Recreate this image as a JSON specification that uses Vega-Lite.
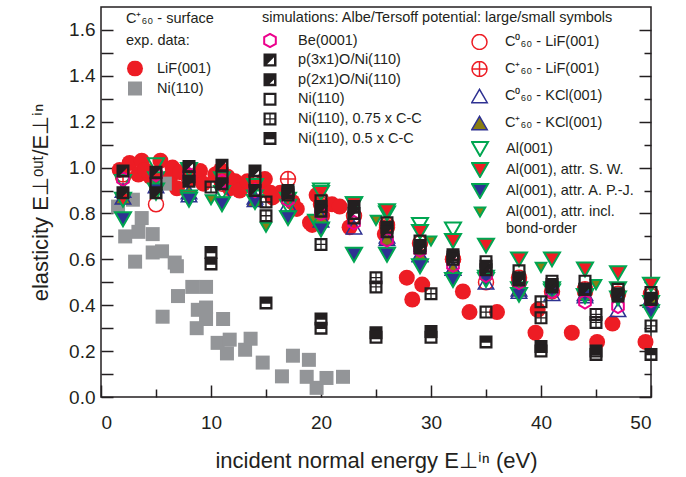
{
  "$schema": "https://vega.github.io/schema/vega-lite/v6.json",
  "width": 550,
  "height": 390,
  "autosize": {"type": "none"},
  "padding": {"left": 101, "top": 7, "right": 35, "bottom": 80},
  "config": {
    "font": "Liberation Sans",
    "view": {"stroke": "#231f20", "strokeWidth": 1.5},
    "axis": {"grid": false, "domain": false, "tickColor": "#231f20", "tickWidth": 1.5, "labelColor": "#231f20", "titleColor": "#231f20", "titleFontWeight": "normal"},
    "legend": {"titleFontWeight": "normal", "titleColor": "#231f20", "labelColor": "#231f20", "titleLimit": 500, "labelLimit": 500, "padding": 0, "symbolOpacity": 1}
  },
  "data": {"values": [
    {"g":"exp","s":"LiF(001)","x":1.7,"y":0.99},{"g":"exp","s":"LiF(001)","x":2.6,"y":1.02},{"g":"exp","s":"LiF(001)","x":3.4,"y":0.97},{"g":"exp","s":"LiF(001)","x":3.7,"y":1.03},{"g":"exp","s":"LiF(001)","x":4.5,"y":0.96},{"g":"exp","s":"LiF(001)","x":4.0,"y":0.99},{"g":"exp","s":"LiF(001)","x":5.4,"y":1.03},{"g":"exp","s":"LiF(001)","x":5.6,"y":0.94},{"g":"exp","s":"LiF(001)","x":6.3,"y":0.96},{"g":"exp","s":"LiF(001)","x":6.5,"y":1.0},{"g":"exp","s":"LiF(001)","x":7.2,"y":0.98},{"g":"exp","s":"LiF(001)","x":6.9,"y":0.91},{"g":"exp","s":"LiF(001)","x":8.2,"y":0.95},{"g":"exp","s":"LiF(001)","x":9.0,"y":0.985},{"g":"exp","s":"LiF(001)","x":9.3,"y":0.93},{"g":"exp","s":"LiF(001)","x":10.4,"y":0.97},{"g":"exp","s":"LiF(001)","x":10.9,"y":0.99},{"g":"exp","s":"LiF(001)","x":11.5,"y":0.96},{"g":"exp","s":"LiF(001)","x":11.7,"y":0.91},{"g":"exp","s":"LiF(001)","x":12.2,"y":0.94},{"g":"exp","s":"LiF(001)","x":12.6,"y":0.9},{"g":"exp","s":"LiF(001)","x":13.3,"y":0.94},{"g":"exp","s":"LiF(001)","x":14.6,"y":0.93},{"g":"exp","s":"LiF(001)","x":14.9,"y":0.95},{"g":"exp","s":"LiF(001)","x":15.4,"y":0.89},{"g":"exp","s":"LiF(001)","x":16.3,"y":0.89},{"g":"exp","s":"LiF(001)","x":15.6,"y":0.87},{"g":"exp","s":"LiF(001)","x":17.4,"y":0.85},{"g":"exp","s":"LiF(001)","x":17.8,"y":0.82},{"g":"exp","s":"LiF(001)","x":19.0,"y":0.76},{"g":"exp","s":"LiF(001)","x":19.6,"y":0.88},{"g":"exp","s":"LiF(001)","x":21.0,"y":0.84},{"g":"exp","s":"LiF(001)","x":21.7,"y":0.83},{"g":"exp","s":"LiF(001)","x":20.1,"y":0.79},{"g":"exp","s":"LiF(001)","x":19.2,"y":0.75},{"g":"exp","s":"LiF(001)","x":22.6,"y":0.74},{"g":"exp","s":"LiF(001)","x":25.8,"y":0.71},{"g":"exp","s":"LiF(001)","x":27.8,"y":0.52},{"g":"exp","s":"LiF(001)","x":29.2,"y":0.49},{"g":"exp","s":"LiF(001)","x":28.3,"y":0.425},{"g":"exp","s":"LiF(001)","x":32.9,"y":0.46},{"g":"exp","s":"LiF(001)","x":33.5,"y":0.37},{"g":"exp","s":"LiF(001)","x":36.0,"y":0.37},{"g":"exp","s":"LiF(001)","x":39.7,"y":0.38},{"g":"exp","s":"LiF(001)","x":39.5,"y":0.28},{"g":"exp","s":"LiF(001)","x":42.8,"y":0.28},{"g":"exp","s":"LiF(001)","x":45.1,"y":0.24},{"g":"exp","s":"LiF(001)","x":46.5,"y":0.32},{"g":"exp","s":"LiF(001)","x":49.5,"y":0.24},
    {"g":"exp","s":"Ni(110)","x":1.55,"y":0.83},{"g":"exp","s":"Ni(110)","x":2.9,"y":0.86},{"g":"exp","s":"Ni(110)","x":3.7,"y":0.78},{"g":"exp","s":"Ni(110)","x":3.4,"y":0.72},{"g":"exp","s":"Ni(110)","x":2.2,"y":0.7},{"g":"exp","s":"Ni(110)","x":4.7,"y":0.71},{"g":"exp","s":"Ni(110)","x":4.7,"y":0.63},{"g":"exp","s":"Ni(110)","x":5.55,"y":0.635},{"g":"exp","s":"Ni(110)","x":3.1,"y":0.59},{"g":"exp","s":"Ni(110)","x":5.8,"y":0.93},{"g":"exp","s":"Ni(110)","x":6.7,"y":0.586},{"g":"exp","s":"Ni(110)","x":6.9,"y":0.57},{"g":"exp","s":"Ni(110)","x":8.3,"y":0.48},{"g":"exp","s":"Ni(110)","x":9.55,"y":0.48},{"g":"exp","s":"Ni(110)","x":7.0,"y":0.44},{"g":"exp","s":"Ni(110)","x":5.6,"y":0.35},{"g":"exp","s":"Ni(110)","x":8.8,"y":0.38},{"g":"exp","s":"Ni(110)","x":9.55,"y":0.39},{"g":"exp","s":"Ni(110)","x":9.55,"y":0.34},{"g":"exp","s":"Ni(110)","x":8.7,"y":0.3},{"g":"exp","s":"Ni(110)","x":11.1,"y":0.34},{"g":"exp","s":"Ni(110)","x":10.6,"y":0.236},{"g":"exp","s":"Ni(110)","x":11.7,"y":0.25},{"g":"exp","s":"Ni(110)","x":11.45,"y":0.19},{"g":"exp","s":"Ni(110)","x":13.1,"y":0.206},{"g":"exp","s":"Ni(110)","x":13.6,"y":0.254},{"g":"exp","s":"Ni(110)","x":14.7,"y":0.15},{"g":"exp","s":"Ni(110)","x":16.45,"y":0.09},{"g":"exp","s":"Ni(110)","x":17.45,"y":0.18},{"g":"exp","s":"Ni(110)","x":18.9,"y":0.162},{"g":"exp","s":"Ni(110)","x":18.7,"y":0.088},{"g":"exp","s":"Ni(110)","x":19.6,"y":0.04},{"g":"exp","s":"Ni(110)","x":20.5,"y":0.083},{"g":"exp","s":"Ni(110)","x":22.0,"y":0.088},

    {"g":"ra","s":"C⁰₆₀ - LiF(001)","x":2,"y":0.96},{"g":"ra","s":"C⁰₆₀ - LiF(001)","x":5,"y":0.84},{"g":"ra","s":"C⁰₆₀ - LiF(001)","x":8,"y":0.95},{"g":"ra","s":"C⁰₆₀ - LiF(001)","x":11,"y":0.93},{"g":"ra","s":"C⁰₆₀ - LiF(001)","x":14,"y":0.91},{"g":"ra","s":"C⁰₆₀ - LiF(001)","x":17,"y":0.87},{"g":"ra","s":"C⁰₆₀ - LiF(001)","x":20,"y":0.84},{"g":"ra","s":"C⁰₆₀ - LiF(001)","x":23,"y":0.79},{"g":"ra","s":"C⁰₆₀ - LiF(001)","x":26,"y":0.74},{"g":"ra","s":"C⁰₆₀ - LiF(001)","x":29,"y":0.67},{"g":"ra","s":"C⁰₆₀ - LiF(001)","x":32,"y":0.6},{"g":"ra","s":"C⁰₆₀ - LiF(001)","x":35,"y":0.5},{"g":"ra","s":"C⁰₆₀ - LiF(001)","x":38,"y":0.5},{"g":"ra","s":"C⁰₆₀ - LiF(001)","x":41,"y":0.46},{"g":"ra","s":"C⁰₆₀ - LiF(001)","x":44,"y":0.46},{"g":"ra","s":"C⁰₆₀ - LiF(001)","x":47,"y":0.45},{"g":"ra","s":"C⁰₆₀ - LiF(001)","x":50,"y":0.44},
    {"g":"ra","s":"C⁺₆₀ - LiF(001)","x":2,"y":0.97},{"g":"ra","s":"C⁺₆₀ - LiF(001)","x":8,"y":0.99},{"g":"ra","s":"C⁺₆₀ - LiF(001)","x":17,"y":0.95},{"g":"ra","s":"C⁺₆₀ - LiF(001)","x":20,"y":0.86},{"g":"ra","s":"C⁺₆₀ - LiF(001)","x":26,"y":0.75},{"g":"ra","s":"C⁺₆₀ - LiF(001)","x":32,"y":0.6},{"g":"ra","s":"C⁺₆₀ - LiF(001)","x":38,"y":0.52},{"g":"ra","s":"C⁺₆₀ - LiF(001)","x":44,"y":0.47},{"g":"ra","s":"C⁺₆₀ - LiF(001)","x":50,"y":0.45},
    {"g":"ra","s":"C⁰₆₀ - KCl(001)","x":2,"y":0.9},{"g":"ra","s":"C⁰₆₀ - KCl(001)","x":5,"y":0.92},{"g":"ra","s":"C⁰₆₀ - KCl(001)","x":8,"y":0.88},{"g":"ra","s":"C⁰₆₀ - KCl(001)","x":11,"y":0.9},{"g":"ra","s":"C⁰₆₀ - KCl(001)","x":14,"y":0.87},{"g":"ra","s":"C⁰₆₀ - KCl(001)","x":17,"y":0.84},{"g":"ra","s":"C⁰₆₀ - KCl(001)","x":20,"y":0.77},{"g":"ra","s":"C⁰₆₀ - KCl(001)","x":23,"y":0.74},{"g":"ra","s":"C⁰₆₀ - KCl(001)","x":26,"y":0.7},{"g":"ra","s":"C⁰₆₀ - KCl(001)","x":29,"y":0.62},{"g":"ra","s":"C⁰₆₀ - KCl(001)","x":32,"y":0.56},{"g":"ra","s":"C⁰₆₀ - KCl(001)","x":35,"y":0.5},{"g":"ra","s":"C⁰₆₀ - KCl(001)","x":38,"y":0.46},{"g":"ra","s":"C⁰₆₀ - KCl(001)","x":41,"y":0.45},{"g":"ra","s":"C⁰₆₀ - KCl(001)","x":44,"y":0.44},{"g":"ra","s":"C⁰₆₀ - KCl(001)","x":47,"y":0.38},{"g":"ra","s":"C⁰₆₀ - KCl(001)","x":50,"y":0.42},
    {"g":"ra","s":"C⁺₆₀ - KCl(001)","x":2,"y":0.87},{"g":"ra","s":"C⁺₆₀ - KCl(001)","x":8,"y":0.893},{"g":"ra","s":"C⁺₆₀ - KCl(001)","x":14,"y":0.86},{"g":"ra","s":"C⁺₆₀ - KCl(001)","x":20,"y":0.785},{"g":"ra","s":"C⁺₆₀ - KCl(001)","x":26,"y":0.69},{"g":"ra","s":"C⁺₆₀ - KCl(001)","x":29,"y":0.62},{"g":"ra","s":"C⁺₆₀ - KCl(001)","x":32,"y":0.56},{"g":"ra","s":"C⁺₆₀ - KCl(001)","x":38,"y":0.47},{"g":"ra","s":"C⁺₆₀ - KCl(001)","x":44,"y":0.45},{"g":"ra","s":"C⁺₆₀ - KCl(001)","x":50,"y":0.43},

    {"g":"rb","s":"Al(001)","x":2,"y":0.937},{"g":"rb","s":"Al(001)","x":5,"y":1.01},{"g":"rb","s":"Al(001)","x":8,"y":0.99},{"g":"rb","s":"Al(001)","x":11,"y":0.89},{"g":"rb","s":"Al(001)","x":14,"y":0.87},{"g":"rb","s":"Al(001)","x":17,"y":0.83},{"g":"rb","s":"Al(001)","x":20,"y":0.9},{"g":"rb","s":"Al(001)","x":23,"y":0.84},{"g":"rb","s":"Al(001)","x":26,"y":0.8},{"g":"rb","s":"Al(001)","x":29,"y":0.75},{"g":"rb","s":"Al(001)","x":32,"y":0.73},{"g":"rb","s":"Al(001)","x":35,"y":0.52},{"g":"rb","s":"Al(001)","x":38,"y":0.47},{"g":"rb","s":"Al(001)","x":41,"y":0.47},{"g":"rb","s":"Al(001)","x":44,"y":0.44},{"g":"rb","s":"Al(001)","x":47,"y":0.47},{"g":"rb","s":"Al(001)","x":50,"y":0.41},
    {"g":"rb","s":"Al(001), attr. S. W.","x":2,"y":0.86},{"g":"rb","s":"Al(001), attr. S. W.","x":5,"y":0.95},{"g":"rb","s":"Al(001), attr. S. W.","x":8,"y":0.87},{"g":"rb","s":"Al(001), attr. S. W.","x":11,"y":0.95},{"g":"rb","s":"Al(001), attr. S. W.","x":14,"y":0.92},{"g":"rb","s":"Al(001), attr. S. W.","x":17,"y":0.86},{"g":"rb","s":"Al(001), attr. S. W.","x":20,"y":0.89},{"g":"rb","s":"Al(001), attr. S. W.","x":23,"y":0.84},{"g":"rb","s":"Al(001), attr. S. W.","x":26,"y":0.81},{"g":"rb","s":"Al(001), attr. S. W.","x":29,"y":0.72},{"g":"rb","s":"Al(001), attr. S. W.","x":32,"y":0.68},{"g":"rb","s":"Al(001), attr. S. W.","x":35,"y":0.66},{"g":"rb","s":"Al(001), attr. S. W.","x":38,"y":0.6},{"g":"rb","s":"Al(001), attr. S. W.","x":41,"y":0.6},{"g":"rb","s":"Al(001), attr. S. W.","x":44,"y":0.556},{"g":"rb","s":"Al(001), attr. S. W.","x":47,"y":0.54},{"g":"rb","s":"Al(001), attr. S. W.","x":50,"y":0.49},
    {"g":"rb","s":"Al(001), attr. A. P.-J.","x":2,"y":0.775},{"g":"rb","s":"Al(001), attr. A. P.-J.","x":5,"y":0.9},{"g":"rb","s":"Al(001), attr. A. P.-J.","x":8,"y":0.86},{"g":"rb","s":"Al(001), attr. A. P.-J.","x":11,"y":0.84},{"g":"rb","s":"Al(001), attr. A. P.-J.","x":14,"y":0.85},{"g":"rb","s":"Al(001), attr. A. P.-J.","x":17,"y":0.78},{"g":"rb","s":"Al(001), attr. A. P.-J.","x":20,"y":0.73},{"g":"rb","s":"Al(001), attr. A. P.-J.","x":23,"y":0.62},{"g":"rb","s":"Al(001), attr. A. P.-J.","x":26,"y":0.62},{"g":"rb","s":"Al(001), attr. A. P.-J.","x":29,"y":0.57},{"g":"rb","s":"Al(001), attr. A. P.-J.","x":32,"y":0.51},{"g":"rb","s":"Al(001), attr. A. P.-J.","x":35,"y":0.51},{"g":"rb","s":"Al(001), attr. A. P.-J.","x":38,"y":0.445},{"g":"rb","s":"Al(001), attr. A. P.-J.","x":41,"y":0.46},{"g":"rb","s":"Al(001), attr. A. P.-J.","x":44,"y":0.44},{"g":"rb","s":"Al(001), attr. A. P.-J.","x":47,"y":0.43},{"g":"rb","s":"Al(001), attr. A. P.-J.","x":50,"y":0.37},
    {"g":"rb","s":"Al(001), attr. incl. bond-order","x":5,"y":0.88},{"g":"rb","s":"Al(001), attr. incl. bond-order","x":10,"y":0.86},{"g":"rb","s":"Al(001), attr. incl. bond-order","x":15,"y":0.74},{"g":"rb","s":"Al(001), attr. incl. bond-order","x":19.3,"y":0.775},{"g":"rb","s":"Al(001), attr. incl. bond-order","x":25,"y":0.77},{"g":"rb","s":"Al(001), attr. incl. bond-order","x":30,"y":0.68},{"g":"rb","s":"Al(001), attr. incl. bond-order","x":40,"y":0.565},{"g":"rb","s":"Al(001), attr. incl. bond-order","x":45,"y":0.49},

    {"g":"mid","s":"Be(0001)","x":2,"y":0.95},{"g":"mid","s":"Be(0001)","x":5,"y":0.97},{"g":"mid","s":"Be(0001)","x":8,"y":0.97},{"g":"mid","s":"Be(0001)","x":11,"y":0.94},{"g":"mid","s":"Be(0001)","x":14,"y":0.9},{"g":"mid","s":"Be(0001)","x":17,"y":0.86},{"g":"mid","s":"Be(0001)","x":20,"y":0.8},{"g":"mid","s":"Be(0001)","x":23,"y":0.76},{"g":"mid","s":"Be(0001)","x":26,"y":0.685},{"g":"mid","s":"Be(0001)","x":29,"y":0.64},{"g":"mid","s":"Be(0001)","x":32,"y":0.575},{"g":"mid","s":"Be(0001)","x":35,"y":0.53},{"g":"mid","s":"Be(0001)","x":38,"y":0.5},{"g":"mid","s":"Be(0001)","x":41,"y":0.46},{"g":"mid","s":"Be(0001)","x":44,"y":0.415},{"g":"mid","s":"Be(0001)","x":47,"y":0.395},{"g":"mid","s":"Be(0001)","x":50,"y":0.42},
    {"g":"mid","s":"Ni(110)","x":5,"y":0.93},{"g":"mid","s":"Ni(110)","x":8,"y":0.96},{"g":"mid","s":"Ni(110)","x":11,"y":0.96},{"g":"mid","s":"Ni(110)","x":14,"y":0.94},{"g":"mid","s":"Ni(110)","x":17,"y":0.89},{"g":"mid","s":"Ni(110)","x":20,"y":0.855},{"g":"mid","s":"Ni(110)","x":23,"y":0.78},{"g":"mid","s":"Ni(110)","x":26,"y":0.76},{"g":"mid","s":"Ni(110)","x":29,"y":0.68},{"g":"mid","s":"Ni(110)","x":32,"y":0.61},{"g":"mid","s":"Ni(110)","x":35,"y":0.59},{"g":"mid","s":"Ni(110)","x":38,"y":0.55},{"g":"mid","s":"Ni(110)","x":41,"y":0.505},{"g":"mid","s":"Ni(110)","x":44,"y":0.505},{"g":"mid","s":"Ni(110)","x":47,"y":0.47},{"g":"mid","s":"Ni(110)","x":50,"y":0.455},
    {"g":"mid","s":"p(2x1)O/Ni(110)","x":2,"y":0.89},{"g":"mid","s":"p(2x1)O/Ni(110)","x":5,"y":0.89},{"g":"mid","s":"p(2x1)O/Ni(110)","x":8,"y":0.94},{"g":"mid","s":"p(2x1)O/Ni(110)","x":11,"y":0.93},{"g":"mid","s":"p(2x1)O/Ni(110)","x":14,"y":0.985},{"g":"mid","s":"p(2x1)O/Ni(110)","x":17,"y":0.9},{"g":"mid","s":"p(2x1)O/Ni(110)","x":20,"y":0.83},{"g":"mid","s":"p(2x1)O/Ni(110)","x":23,"y":0.83},{"g":"mid","s":"p(2x1)O/Ni(110)","x":26,"y":0.74},{"g":"mid","s":"p(2x1)O/Ni(110)","x":29,"y":0.65},{"g":"mid","s":"p(2x1)O/Ni(110)","x":32,"y":0.62},{"g":"mid","s":"p(2x1)O/Ni(110)","x":35,"y":0.555},{"g":"mid","s":"p(2x1)O/Ni(110)","x":38,"y":0.51},{"g":"mid","s":"p(2x1)O/Ni(110)","x":41,"y":0.48},{"g":"mid","s":"p(2x1)O/Ni(110)","x":44,"y":0.47},{"g":"mid","s":"p(2x1)O/Ni(110)","x":47,"y":0.44},{"g":"mid","s":"p(2x1)O/Ni(110)","x":50,"y":0.425},
    {"g":"mid","s":"p(3x1)O/Ni(110)","x":2,"y":0.985},{"g":"mid","s":"p(3x1)O/Ni(110)","x":5,"y":0.98},{"g":"mid","s":"p(3x1)O/Ni(110)","x":8,"y":1.005},{"g":"mid","s":"p(3x1)O/Ni(110)","x":11,"y":1.01},{"g":"mid","s":"p(3x1)O/Ni(110)","x":14,"y":0.9},{"g":"mid","s":"p(3x1)O/Ni(110)","x":17,"y":0.88},{"g":"mid","s":"p(3x1)O/Ni(110)","x":20,"y":0.81},{"g":"mid","s":"p(3x1)O/Ni(110)","x":23,"y":0.8},{"g":"mid","s":"p(3x1)O/Ni(110)","x":26,"y":0.72},{"g":"mid","s":"p(3x1)O/Ni(110)","x":29,"y":0.66},{"g":"mid","s":"p(3x1)O/Ni(110)","x":32,"y":0.6},{"g":"mid","s":"p(3x1)O/Ni(110)","x":35,"y":0.57},{"g":"mid","s":"p(3x1)O/Ni(110)","x":38,"y":0.52},{"g":"mid","s":"p(3x1)O/Ni(110)","x":41,"y":0.49},{"g":"mid","s":"p(3x1)O/Ni(110)","x":44,"y":0.47},{"g":"mid","s":"p(3x1)O/Ni(110)","x":47,"y":0.45},{"g":"mid","s":"p(3x1)O/Ni(110)","x":50,"y":0.43},
    {"g":"mid","s":"Ni(110), 0.75 x C-C","x":10,"y":0.915},{"g":"mid","s":"Ni(110), 0.75 x C-C","x":15,"y":0.85},{"g":"mid","s":"Ni(110), 0.75 x C-C","x":15,"y":0.79},{"g":"mid","s":"Ni(110), 0.75 x C-C","x":20,"y":0.665},{"g":"mid","s":"Ni(110), 0.75 x C-C","x":25,"y":0.52},{"g":"mid","s":"Ni(110), 0.75 x C-C","x":25,"y":0.48},{"g":"mid","s":"Ni(110), 0.75 x C-C","x":30,"y":0.45},{"g":"mid","s":"Ni(110), 0.75 x C-C","x":35,"y":0.37},{"g":"mid","s":"Ni(110), 0.75 x C-C","x":40,"y":0.415},{"g":"mid","s":"Ni(110), 0.75 x C-C","x":40,"y":0.345},{"g":"mid","s":"Ni(110), 0.75 x C-C","x":45,"y":0.36},{"g":"mid","s":"Ni(110), 0.75 x C-C","x":45,"y":0.325},{"g":"mid","s":"Ni(110), 0.75 x C-C","x":50,"y":0.31},
    {"g":"mid","s":"Ni(110), 0.5 x C-C","x":10,"y":0.63},{"g":"mid","s":"Ni(110), 0.5 x C-C","x":10,"y":0.58},{"g":"mid","s":"Ni(110), 0.5 x C-C","x":15,"y":0.41},{"g":"mid","s":"Ni(110), 0.5 x C-C","x":20,"y":0.34},{"g":"mid","s":"Ni(110), 0.5 x C-C","x":20,"y":0.3},{"g":"mid","s":"Ni(110), 0.5 x C-C","x":25,"y":0.28},{"g":"mid","s":"Ni(110), 0.5 x C-C","x":25,"y":0.26},{"g":"mid","s":"Ni(110), 0.5 x C-C","x":30,"y":0.285},{"g":"mid","s":"Ni(110), 0.5 x C-C","x":30,"y":0.26},{"g":"mid","s":"Ni(110), 0.5 x C-C","x":35,"y":0.24},{"g":"mid","s":"Ni(110), 0.5 x C-C","x":40,"y":0.22},{"g":"mid","s":"Ni(110), 0.5 x C-C","x":40,"y":0.2},{"g":"mid","s":"Ni(110), 0.5 x C-C","x":45,"y":0.2},{"g":"mid","s":"Ni(110), 0.5 x C-C","x":45,"y":0.185},{"g":"mid","s":"Ni(110), 0.5 x C-C","x":50,"y":0.185}
  ]},
  "layer": [
    {
      "transform": [{"filter": "datum.g === 'exp'"}],
      "mark": {"type": "point", "opacity": 1, "strokeWidth": 0},
      "encoding": {
        "x": {"field": "x", "type": "quantitative", "scale": {"domain": [0, 50], "nice": false},
          "axis": {"values": [0,5,10,15,20,25,30,35,40,45,50], "labelExpr": "datum.value % 10 === 0 ? datum.label : ''",
            "tickSize": {"condition": {"test": "datum.value % 10 === 0", "value": -12}, "value": -8},
            "labelPadding": 28, "labelFontSize": 19, "title": "incident normal energy E⊥ⁱⁿ (eV)", "titleFontSize": 22, "titlePadding": 18}},
        "y": {"field": "y", "type": "quantitative", "scale": {"domain": [0, 1.7], "nice": false, "zero": true},
          "axis": {"values": [0,0.1,0.2,0.3,0.4,0.5,0.6,0.7,0.8,0.9,1.0,1.1,1.2,1.3,1.4,1.5,1.6], "labelExpr": "round(datum.value*10) % 2 === 0 ? format(datum.value, '.1f') : ''",
            "tickSize": -12, "labelPadding": 18, "labelFontSize": 19, "title": "elasticity E⊥ᵒᵘᵗ/E⊥ⁱⁿ", "titleFontSize": 22, "titlePadding": 16}},
        "shape": {"field": "s", "type": "nominal", "scale": {"domain": ["LiF(001)", "Ni(110)"], "range": ["circle", "square"]},
          "legend": {"orient": "none", "legendX": 25, "legendY": 5, "title": ["C⁺₆₀ - surface", "exp. data:"], "titleFontSize": 14.5, "titleLineHeight": 22, "titlePadding": 12, "labelFontSize": 14.5, "clipHeight": 16, "rowPadding": 4, "labelOffset": 13}},
        "fill": {"field": "s", "type": "nominal", "scale": {"domain": ["LiF(001)", "Ni(110)"], "range": ["#ed1c24", "#939598"]}},
        "stroke": {"field": "s", "type": "nominal", "scale": {"domain": ["LiF(001)", "Ni(110)"], "range": ["transparent", "transparent"]}},
        "size": {"field": "s", "type": "nominal", "scale": {"type": "ordinal", "domain": ["LiF(001)", "Ni(110)"], "range": [256, 196]}}
      }
    },
    {
      "transform": [{"filter": "datum.g === 'ra'"}],
      "mark": {"type": "point", "opacity": 1, "strokeWidth": 1.5},
      "encoding": {
        "x": {"field": "x", "type": "quantitative"},
        "y": {"field": "y", "type": "quantitative", "axis": null},
        "shape": {"field": "s", "type": "nominal", "scale": {"domain": ["C⁰₆₀ - LiF(001)", "C⁺₆₀ - LiF(001)", "C⁰₆₀ - KCl(001)", "C⁺₆₀ - KCl(001)"], "range": ["circle", "M-1,0A1,1,0,1,1,1,0A1,1,0,1,1,-1,0ZM-1,0H1M0,-1V1", "triangle-up", "triangle-up"]},
          "legend": {"orient": "none", "legendX": 370, "legendY": 27, "title": null, "labelFontSize": 14.5, "clipHeight": 16, "rowPadding": 11, "labelOffset": 17, "symbolStrokeWidth": 1.5}},
        "fill": {"field": "s", "type": "nominal", "scale": {"domain": ["C⁰₆₀ - LiF(001)", "C⁺₆₀ - LiF(001)", "C⁰₆₀ - KCl(001)", "C⁺₆₀ - KCl(001)"], "range": ["transparent", "transparent", "transparent", "#8a7d12"]}},
        "stroke": {"field": "s", "type": "nominal", "scale": {"domain": ["C⁰₆₀ - LiF(001)", "C⁺₆₀ - LiF(001)", "C⁰₆₀ - KCl(001)", "C⁺₆₀ - KCl(001)"], "range": ["#ed1c24", "#ed1c24", "#2e3192", "#2e3192"]}},
        "size": {"field": "s", "type": "nominal", "scale": {"type": "ordinal", "domain": ["C⁰₆₀ - LiF(001)", "C⁺₆₀ - LiF(001)", "C⁰₆₀ - KCl(001)", "C⁺₆₀ - KCl(001)"], "range": [225, 225, 240, 240]}}
      }
    },
    {
      "transform": [{"filter": "datum.g === 'rb'"}],
      "mark": {"type": "point", "opacity": 1, "strokeWidth": 2},
      "encoding": {
        "x": {"field": "x", "type": "quantitative"},
        "y": {"field": "y", "type": "quantitative", "axis": null},
        "shape": {"field": "s", "type": "nominal", "scale": {"domain": ["Al(001)", "Al(001), attr. S. W.", "Al(001), attr. A. P.-J.", "Al(001), attr. incl. bond-order"], "range": ["triangle-down", "triangle-down", "triangle-down", "triangle-down"]},
          "legend": {"orient": "none", "legendX": 370, "legendY": 134, "title": null, "labelFontSize": 14.5, "clipHeight": 16, "rowPadding": 5, "labelOffset": 17, "symbolStrokeWidth": 2,
            "labelExpr": "datum.label === 'Al(001), attr. incl. bond-order' ? ['Al(001), attr. incl.', 'bond-order'] : datum.label"}},
        "fill": {"field": "s", "type": "nominal", "scale": {"domain": ["Al(001)", "Al(001), attr. S. W.", "Al(001), attr. A. P.-J.", "Al(001), attr. incl. bond-order"], "range": ["transparent", "#ed1c24", "#2e3192", "#8a7d12"]}},
        "stroke": {"field": "s", "type": "nominal", "scale": {"domain": ["Al(001)", "Al(001), attr. S. W.", "Al(001), attr. A. P.-J.", "Al(001), attr. incl. bond-order"], "range": ["#00a651", "#00a651", "#00a651", "#00a651"]}},
        "size": {"field": "s", "type": "nominal", "scale": {"type": "ordinal", "domain": ["Al(001)", "Al(001), attr. S. W.", "Al(001), attr. A. P.-J.", "Al(001), attr. incl. bond-order"], "range": [256, 256, 256, 110]}}
      }
    },
    {
      "transform": [{"filter": "datum.g === 'mid'"}],
      "mark": {"type": "point", "opacity": 1, "strokeWidth": 2},
      "encoding": {
        "x": {"field": "x", "type": "quantitative"},
        "y": {"field": "y", "type": "quantitative",
          "axis": {"orient": "right", "values": [0,0.1,0.2,0.3,0.4,0.5,0.6,0.7,0.8,0.9,1.0,1.1,1.2,1.3,1.4,1.5,1.6], "labels": false, "title": null,
            "tickSize": {"condition": {"test": "round(datum.value*10) % 2 === 0", "value": -12}, "value": -7}}},
        "shape": {"field": "s", "type": "nominal", "scale": {"domain": ["Be(0001)", "p(3x1)O/Ni(110)", "p(2x1)O/Ni(110)", "Ni(110)", "Ni(110), 0.75 x C-C", "Ni(110), 0.5 x C-C"],
            "range": ["M0,-1L0.866,-0.5L0.866,0.5L0,1L-0.866,0.5L-0.866,-0.5Z", "M-1,-1H1V1H-1ZM0.62,-0.45L-0.45,0.62H0.62Z", "M-1,-1H1V1H-1ZM0.62,-0.05L-0.05,0.62H0.62Z", "M-1,-1H1V1H-1ZM-0.66,-0.66V0.66H0.66V-0.66Z", "M-1,-1H1V1H-1ZM-0.66,-0.66V-0.1H-0.1V-0.66ZM0.1,-0.66V-0.1H0.66V-0.66ZM-0.66,0.1V0.66H-0.1V0.1ZM0.1,0.1V0.66H0.66V0.1Z", "M-1,-1H1V1H-1ZM-0.66,0.12V0.62H0.66V0.12Z"]},
          "legend": {"orient": "none", "legendX": 161, "legendY": 4, "title": "simulations: Albe/Tersoff potential: large/small symbols", "titleFontSize": 14.5, "titlePadding": 7, "labelFontSize": 14.5, "clipHeight": 16, "rowPadding": 3.6, "labelOffset": 20, "symbolStrokeWidth": 2}},
        "fill": {"field": "s", "type": "nominal", "scale": {"domain": ["Be(0001)", "p(3x1)O/Ni(110)", "p(2x1)O/Ni(110)", "Ni(110)", "Ni(110), 0.75 x C-C", "Ni(110), 0.5 x C-C"], "range": ["transparent", "#231f20", "#231f20", "#231f20", "#231f20", "#231f20"]}},
        "stroke": {"field": "s", "type": "nominal", "scale": {"domain": ["Be(0001)", "p(3x1)O/Ni(110)", "p(2x1)O/Ni(110)", "Ni(110)", "Ni(110), 0.75 x C-C", "Ni(110), 0.5 x C-C"], "range": ["#ec008c", "transparent", "transparent", "transparent", "transparent", "transparent"]}},
        "size": {"field": "s", "type": "nominal", "scale": {"type": "ordinal", "domain": ["Be(0001)", "p(3x1)O/Ni(110)", "p(2x1)O/Ni(110)", "Ni(110)", "Ni(110), 0.75 x C-C", "Ni(110), 0.5 x C-C"], "range": [180, 169, 169, 169, 169, 169]}}
      }
    }
  ],
  "resolve": {
    "scale": {"shape": "independent", "fill": "independent", "stroke": "independent", "size": "independent"},
    "axis": {"y": "independent"}
  }
}
